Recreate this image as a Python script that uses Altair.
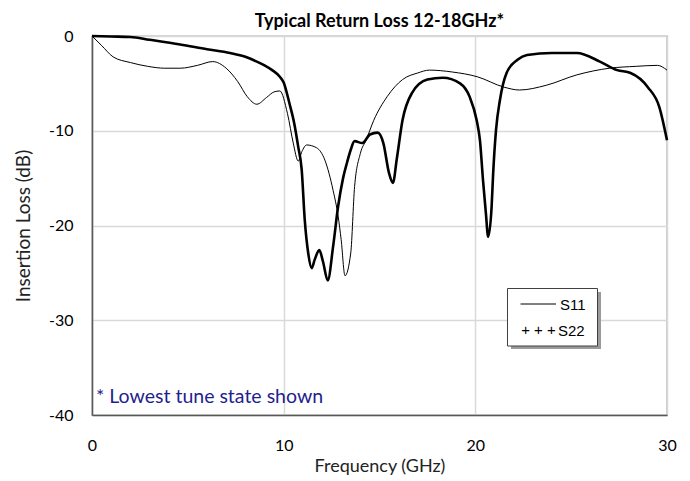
import altair as alt
import pandas as pd

# ---- data ----
s11_freq = [0, 0.5, 1.1, 2.0, 2.9, 3.8, 4.6, 5.5, 6.3, 7.0, 7.6, 8.1, 8.6, 9.1, 9.5, 9.8,
            10.2, 10.5, 10.76, 10.95, 11.2, 11.72, 12.15, 12.58, 12.84, 13.0, 13.2, 13.5,
            13.7, 14.0, 14.3, 14.7, 15.4, 16.2, 17.0, 17.6, 18.8, 20.1, 21.5, 22.3, 23.7,
            25.3, 27.0, 28.4, 29.5, 30]
s11_db = [0, -1.0, -2.2, -2.8, -3.2, -3.4, -3.4, -3.1, -2.7, -3.4, -4.8, -6.4, -7.2, -6.5, -5.9, -5.8,
          -8.2, -11.3, -13.2, -12.2, -11.5, -11.8, -13.1, -16.3, -19.0, -21.5, -25.3, -22.9,
          -15.9, -12.4, -11.0, -8.9, -6.4, -4.6, -3.9, -3.6, -3.8, -4.3, -5.4, -5.7, -5.2,
          -4.1, -3.4, -3.2, -3.1, -3.6]

s22_freq = [0, 1, 2, 3, 4.6, 6, 7.2, 8.0, 8.6, 9.0, 9.4, 9.8, 10.0, 10.3, 10.55, 10.76, 10.94,
            11.1, 11.28, 11.46, 11.62, 11.86, 12.05, 12.3, 12.58, 12.84, 13.1, 13.3, 13.5, 13.7,
            14.1, 14.5, 14.9, 15.2, 15.5, 15.7, 15.9, 16.2, 16.7, 17.5, 18.3, 19.2, 19.7, 20.07,
            20.24, 20.4, 20.55, 20.67, 20.85, 20.93, 21.08, 21.28, 21.63, 22.2, 22.7, 24.0, 25.3,
            26.5, 27.4, 28.1, 29.0, 29.6, 30]
s22_db = [0, -0.05, -0.1, -0.4, -0.9, -1.4, -1.8, -2.2, -2.7, -3.1, -3.6, -4.3, -4.9, -7.1, -9.2, -11.7, -14.1,
          -19.4, -22.9, -24.5, -23.6, -22.6, -23.8, -25.8, -22.2, -18.0, -15.0, -13.4, -12.0, -11.1,
          -11.3, -10.4, -10.2, -11.3, -14.5, -15.5, -13.0, -8.9, -6.0, -4.6, -4.4, -5.0, -6.4, -8.9,
          -11.0, -15.2, -18.7, -21.2, -18.0, -14.5, -9.9, -6.8, -3.9, -2.5, -2.0, -1.8, -1.8,
          -2.7, -3.6, -3.9, -5.4, -7.5, -11.0]

x_ticks = [0, 10, 20, 30]
y_ticks = [-40, -30, -20, -10, 0]
title_text = "Typical Return Loss 12-18GHz*"
x_title = "Frequency (GHz)"
y_title = "Insertion Loss (dB)"
note_text = "* Lowest tune state shown"
legend_labels = ["S11", "S22"]
legend_s22_symbol = "+ + +"

FONT = "Lato"
LEG_FONT = "Liberation Sans"

df11 = pd.DataFrame({"f": s11_freq, "db": s11_db})
df22 = pd.DataFrame({"f": s22_freq, "db": s22_db})
one = pd.DataFrame({"a": [0]})

xenc = alt.X("f:Q", scale=alt.Scale(domain=[0, 30], nice=False),
             axis=alt.Axis(values=x_ticks, title=x_title, labelFlush=False,
                           labelPadding=22, titlePadding=4, titleFontSize=18,
                           labelExpr="'' + datum.value"))
yenc = alt.Y("db:Q", scale=alt.Scale(domain=[-40, 0], nice=False),
             axis=alt.Axis(values=y_ticks, title=y_title, labelPadding=19,
                           titlePadding=15, titleFontSize=19, labelExpr="'' + datum.value"))

l11 = alt.Chart(df11).mark_line(color="black", strokeWidth=1, interpolate="monotone").encode(x=xenc, y=yenc)
l22 = alt.Chart(df22).mark_line(color="black", strokeWidth=2.6, interpolate="monotone").encode(x=xenc, y=yenc)

note = alt.Chart(one).mark_text(text=note_text, align="left", baseline="alphabetic",
                                color="#1f1f8f", fontSize=19.5, font=FONT).encode(
    x=alt.value(4), y=alt.value(367))

shadow = alt.Chart(one).mark_rect(fill="#9a9a9a").encode(
    x=alt.value(419), x2=alt.value(509), y=alt.value(256), y2=alt.value(313))
box = alt.Chart(one).mark_rect(fill="white", stroke="#404040", strokeWidth=1).encode(
    x=alt.value(415.5), x2=alt.value(505.5), y=alt.value(252.5), y2=alt.value(310))
sample = alt.Chart(one).mark_rule(color="black", strokeWidth=1).encode(
    x=alt.value(428.5), x2=alt.value(464), y=alt.value(268))
t1 = alt.Chart(one).mark_text(text=legend_labels[0], align="left", baseline="middle",
                              font=LEG_FONT, fontSize=15, color="black").encode(
    x=alt.value(468), y=alt.value(269))
plus = alt.Chart(one).mark_text(text=legend_s22_symbol, align="center", baseline="middle",
                                font=LEG_FONT, fontSize=15, color="black").encode(
    x=alt.value(446.5), y=alt.value(294))
t2 = alt.Chart(one).mark_text(text=legend_labels[1], align="left", baseline="middle",
                              font=LEG_FONT, fontSize=15, color="black").encode(
    x=alt.value(466), y=alt.value(295))

chart = alt.layer(l11, l22, note, shadow, box, sample, t1, plus, t2).properties(
    width=575, height=379,
    autosize=alt.AutoSizeParams(type="none"),
    padding={"left": 84, "top": 28, "right": 15, "bottom": 62},
    title=alt.TitleParams(title_text, font=FONT, fontSize=18, fontWeight="bold",
                          anchor="middle", offset=-3, color="black"),
).configure_view(
    stroke="#595959", strokeWidth=1.2
).configure_axis(
    grid=True, gridColor="#d9d9d9", gridWidth=1.5,
    domainColor="#595959", domainWidth=1.5, ticks=False,
    labelFont=FONT, labelFontSize=16, labelColor="black",
    titleFont=FONT, titleFontWeight="normal", titleColor="#222222"
)

chart.save("out.html", embed_options={"renderer": "svg", "actions": False})
